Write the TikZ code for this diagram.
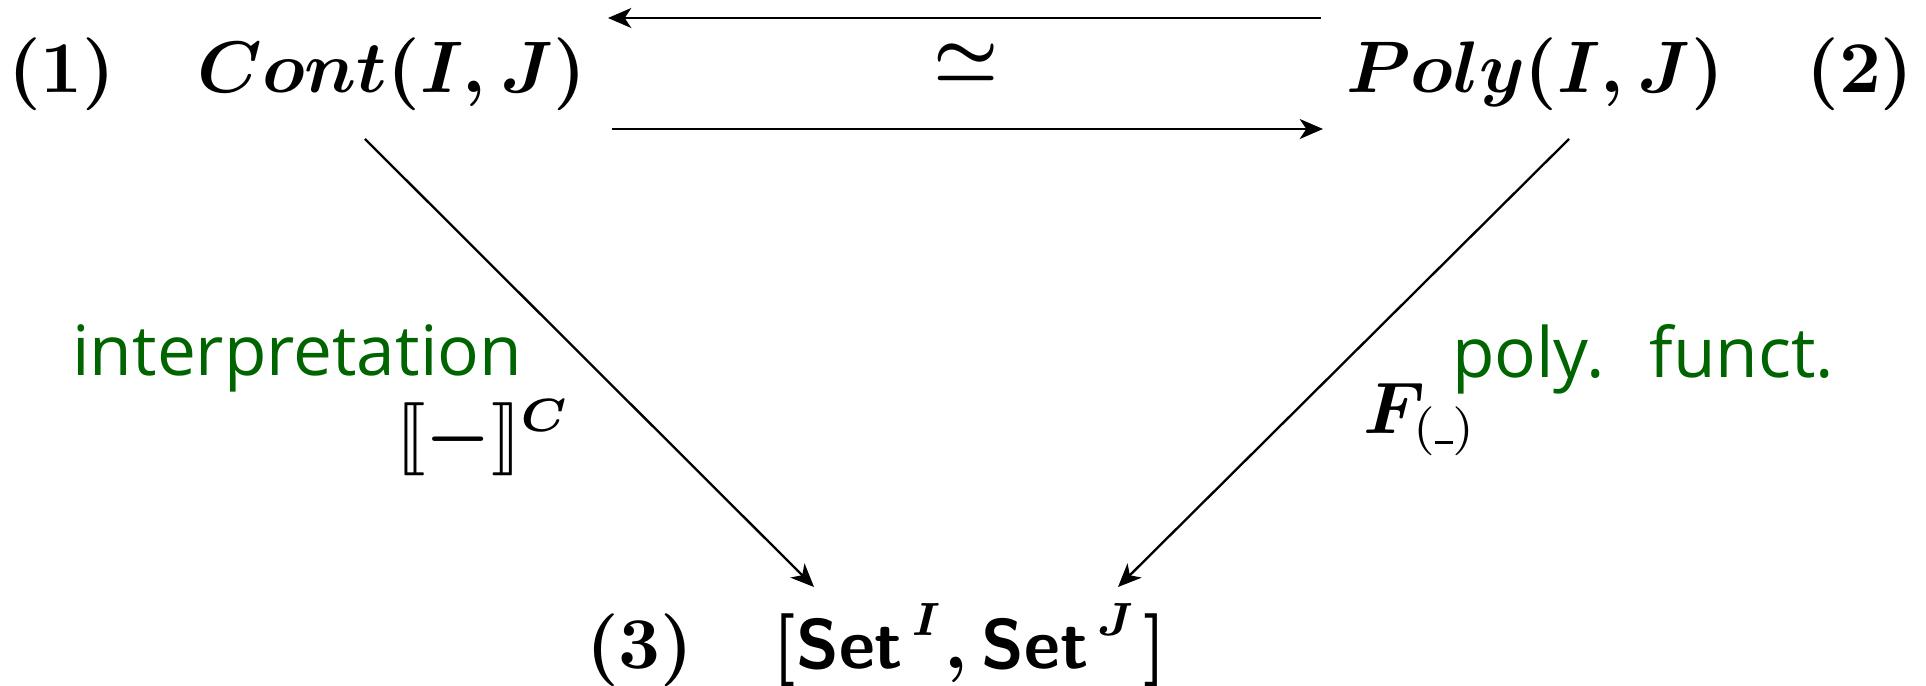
\documentclass[tikz,border=0pt]{standalone}
\usepackage{amsmath}
\usepackage{stmaryrd}
\usepackage{fontspec}
\newfontfamily\greenfont{Open Sans}
\usetikzlibrary{arrows.meta,calc}
\definecolor{lblgreen}{RGB}{0,100,0}
\newcommand{\SetSf}{\text{\sffamily\bfseries Set}}
\begin{document}
\begin{tikzpicture}[x=0.15pt,y=-0.15pt,
  every node/.style={inner sep=0pt,outer sep=0pt},
  mathlbl/.style={font=\fontsize{10.5}{12}\selectfont\boldmath, anchor=base},
  greenlbl/.style={font=\greenfont\fontsize{10.4}{12}\selectfont, text=lblgreen},
  arr/.style={-{Stealth[length=3.5pt,width=3pt,inset=1pt]}, line width=0.35pt}]
\useasboundingbox (0,0) rectangle (1926,686);
% top row
\node[mathlbl] (n1) at (62,93) {$(1)$};
\node[mathlbl] (cont) at (392,93) {$Cont(I,J)$};
\node[mathlbl] (poly) at (1535,93) {$Poly(I,J)$};
\node[mathlbl] (n2) at (1860,93) {$(2)$};
% bottom row
\node[mathlbl] (n3) at (640,669) {$(3)$};
\node[mathlbl] (sets) at (970,669) {$[\SetSf^{\kern1.2pt I},\SetSf^{\kern1.2pt J}\kern1pt]$};
% equivalence
\node[font=\fontsize{10.5}{12}\selectfont\boldmath] (eq) at (966,62) {$\simeq$};
\draw[arr] ($(poly.base)+(-214,-75)$) -- ($(cont.base)+(216,-75)$);
\draw[arr] ($(cont.base)+(220,36)$) -- ($(poly.base)+(-212,36)$);
% diagonals
\draw[arr] ($(cont.base)+(-27,46)$) -- ($(sets.base)+(-156,-82)$);
\draw[arr] ($(poly.base)+(34,46)$) -- ($(sets.base)+(148,-82)$);
% labels
\node[greenlbl, anchor=base east] (interp) at (522,376) {interpretation};
\node[mathlbl, anchor=base east] (sem) at (570,458) {$\llbracket - \rrbracket^{C}$};
\node[greenlbl, anchor=base west] (pf) at (1452,378) {poly.\hskip 6.8pt funct.};
\node[mathlbl, anchor=base west] (ff) at (1363,433) {$F_{\textnormal{(\rule{0.36em}{0.45pt})}}$};
\end{tikzpicture}
\end{document}
